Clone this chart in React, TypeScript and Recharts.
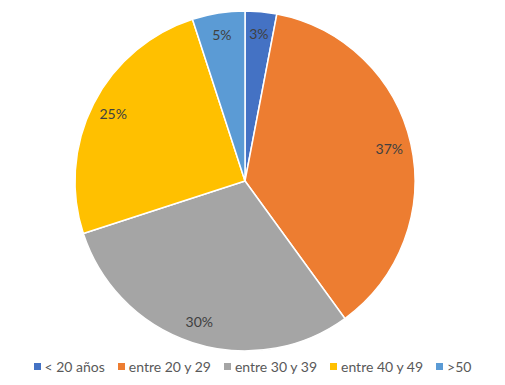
import { PieChart, Pie, Cell, Legend } from "recharts";

const categories = ["< 20 años", "entre 20 y 29", "entre 30 y 39", "entre 40 y 49", ">50"];
const values = [3, 37, 30, 25, 5];
const colors = ["#4472C4", "#ED7D31", "#A5A5A5", "#FFC000", "#5B9BD5"];

const data = categories.map((name, i) => ({ name, value: values[i] }));

const RADIAN = Math.PI / 180;

function renderLabel(props: any) {
  const { cx, cy, midAngle, outerRadius, value } = props;
  const r = outerRadius * 0.87;
  const x = cx + r * Math.cos(-midAngle * RADIAN);
  const y = cy + r * Math.sin(-midAngle * RADIAN);
  return (
    <text x={x} y={y} fill="#404040" fontSize={14} fontFamily="Lato" textAnchor="middle" dominantBaseline="central">
      {`${value}%`}
    </text>
  );
}

function renderLegend() {
  return (
    <div style={{ display: "flex", justifyContent: "center", gap: 13, fontFamily: "Lato", fontSize: 14, color: "#595959" }}>
      {categories.map((c, i) => (
        <span key={c} style={{ display: "flex", alignItems: "center" }}>
          <span style={{ width: 7, height: 7, background: colors[i], marginRight: 4, display: "inline-block" }} />
          {c}
        </span>
      ))}
    </div>
  );
}

export default function App() {
  return (
    <div style={{ position: "absolute", left: 0, top: 0, background: "#fff" }}>
      <PieChart width={505} height={385}>
        <Pie
          data={data}
          dataKey="value"
          cx={240}
          cy={176}
          outerRadius={170}
          startAngle={90}
          endAngle={-270}
          stroke="#fff"
          strokeWidth={1.5}
          label={renderLabel}
          labelLine={false}
          isAnimationActive={false}
        >
          {data.map((d, i) => (
            <Cell key={d.name} fill={colors[i]} />
          ))}
        </Pie>
        <Legend content={renderLegend} wrapperStyle={{ top: 358, left: 0, width: 505 }} />
      </PieChart>
    </div>
  );
}
